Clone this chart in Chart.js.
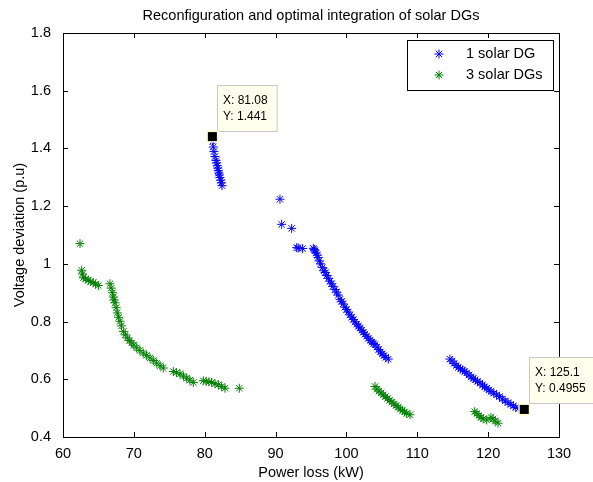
<!DOCTYPE html>
<html><head><meta charset="utf-8">
<script src="https://cdn.jsdelivr.net/npm/chart.js@4"></script>
<style>html,body{margin:0;padding:0;background:#fff}canvas{display:block}</style>
</head><body>
<canvas id="c" width="593" height="482"></canvas>
<script>
const titleText = 'Reconfiguration and optimal integration of solar DGs';
const xAxisTitle = 'Power loss (kW)';
const yAxisTitle = 'Voltage deviation (p.u)';
const seriesLabels = ['1 solar DG', '3 solar DGs'];
const xTicks = [60, 70, 80, 90, 100, 110, 120, 130];
const yTicks = [0.4, 0.6, 0.8, 1.0, 1.2, 1.4, 1.6, 1.8];
const yTickLabels = ['0.4', '0.6', '0.8', '1', '1.2', '1.4', '1.6', '1.8'];

// 1 solar DG
const oneDgX = [81.08, 81.12, 81.21, 81.30, 81.45, 81.59, 81.68, 81.78, 81.85, 81.92, 82.00, 82.06, 82.15, 82.26, 82.35, 82.44,
  90.62, 90.86, 92.27, 92.98, 93.20, 93.82, 95.33, 95.45, 95.56, 95.70, 95.89, 96.00, 96.17, 96.35, 96.60, 96.85, 97.00, 97.21, 97.45, 97.68, 97.90, 98.10, 98.39, 98.60, 98.85, 99.10, 99.30, 99.55, 99.80, 100.00, 100.25, 100.50, 100.75, 100.97, 101.20, 101.45, 101.70, 101.90, 102.15, 102.40, 102.60, 102.86, 103.10, 103.35, 103.60, 103.80, 104.03, 104.30, 104.55, 104.80, 105.05, 105.30, 105.55, 105.91,
  114.6, 114.9, 115.2, 115.5, 115.8, 116.1, 116.4, 116.7, 116.97, 117.3, 117.6, 117.9, 118.2, 118.5, 118.85, 119.2, 119.5, 119.8, 120.1, 120.4, 120.8, 121.2, 121.6, 122.0, 122.4, 122.8, 123.2, 123.55, 123.9, 124.3, 125.1];
const oneDgY = [1.441, 1.425, 1.405, 1.389, 1.372, 1.358, 1.350, 1.340, 1.332, 1.323, 1.315, 1.308, 1.299, 1.290, 1.281, 1.271,
  1.224, 1.137, 1.123, 1.056, 1.055, 1.053, 1.054, 1.050, 1.045, 1.038, 1.030, 1.022, 1.010, 1.000, 0.987, 0.976, 0.970, 0.960, 0.950, 0.940, 0.931, 0.922, 0.911, 0.902, 0.892, 0.877, 0.870, 0.861, 0.850, 0.842, 0.833, 0.823, 0.815, 0.807, 0.799, 0.791, 0.784, 0.778, 0.770, 0.763, 0.756, 0.749, 0.742, 0.735, 0.729, 0.724, 0.720, 0.712, 0.703, 0.695, 0.688, 0.682, 0.676, 0.670,
  0.670, 0.663, 0.655, 0.648, 0.641, 0.636, 0.632, 0.627, 0.622, 0.615, 0.608, 0.603, 0.598, 0.593, 0.587, 0.580, 0.574, 0.569, 0.563, 0.558, 0.552, 0.546, 0.540, 0.532, 0.525, 0.519, 0.513, 0.508, 0.502, 0.499, 0.4955];

// 3 solar DGs
const threeDgX = [62.4, 62.64, 62.75, 62.87, 63.2, 63.57, 63.9, 64.28, 64.6, 64.98,
  66.63, 66.80, 67.01, 67.10, 67.2, 67.34, 67.5, 67.67, 67.85, 68.04, 68.25, 68.51, 68.8, 69.08, 69.4, 69.69, 70.0, 70.4, 70.85, 71.33, 71.8, 72.28, 72.75, 73.22, 73.7, 74.16,
  75.57, 76.0, 76.51, 77.0, 77.46, 77.9, 78.39, 79.8, 80.2, 80.6, 80.98, 81.45, 81.92, 82.4, 82.86, 84.88,
  104.03, 104.3, 104.6, 104.9, 105.2, 105.5, 105.8, 106.1, 106.4, 106.7, 107.0, 107.3, 107.6, 107.9, 108.2, 108.5, 108.97,
  118.1, 118.4, 118.7, 119.0, 119.3, 119.8, 120.4, 120.7, 121.0, 121.4];
const threeDgY = [1.070, 0.978, 0.965, 0.952, 0.948, 0.943, 0.939, 0.935, 0.930, 0.925,
  0.931, 0.916, 0.900, 0.885, 0.875, 0.865, 0.848, 0.830, 0.815, 0.801, 0.785, 0.766, 0.754, 0.743, 0.734, 0.726, 0.718, 0.709, 0.700, 0.691, 0.683, 0.674, 0.665, 0.656, 0.647, 0.639,
  0.627, 0.623, 0.619, 0.611, 0.604, 0.597, 0.589, 0.595, 0.593, 0.591, 0.589, 0.585, 0.581, 0.575, 0.569, 0.569,
  0.575, 0.566, 0.559, 0.553, 0.546, 0.540, 0.533, 0.527, 0.521, 0.515, 0.509, 0.503, 0.497, 0.492, 0.487, 0.482, 0.477,
  0.488, 0.481, 0.474, 0.468, 0.463, 0.459, 0.468, 0.463, 0.455, 0.448];

// data tips
const tipX = [81.08, 125.1];
const tipY = [1.441, 0.4955];

const FONT = '"Liberation Sans", Arial, Helvetica, sans-serif';
const toPts = (xs, ys) => xs.map((x, i) => ({x: x, y: ys[i]}));

function drawStar(ctx, x, y, r, color) {
  ctx.strokeStyle = color;
  ctx.lineWidth = 1;
  ctx.beginPath();
  ctx.moveTo(x - r, y); ctx.lineTo(x + r, y);
  ctx.moveTo(x, y - r); ctx.lineTo(x, y + r);
  const d = r * Math.SQRT1_2;
  ctx.moveTo(x - d, y - d); ctx.lineTo(x + d, y + d);
  ctx.moveTo(x - d, y + d); ctx.lineTo(x + d, y - d);
  ctx.stroke();
}

const overlay = {
  id: 'overlay',
  afterDraw(chart) {
    const ctx = chart.ctx, a = chart.chartArea;
    const xs = chart.scales.x, ys = chart.scales.y;
    ctx.save();
    // title
    ctx.fillStyle = '#000';
    ctx.font = '14.5px ' + FONT;
    ctx.textAlign = 'center';
    ctx.textBaseline = 'middle';
    ctx.fillText(titleText, (a.left + a.right) / 2, 16);
    // frame
    ctx.strokeStyle = '#000';
    ctx.lineWidth = 1;
    ctx.strokeRect(Math.round(a.left) + 0.5, Math.round(a.top) + 0.5, Math.round(a.right - a.left), Math.round(a.bottom - a.top));
    // inward ticks
    const tl = 5;
    ctx.beginPath();
    xTicks.forEach(v => {
      const p = Math.round(xs.getPixelForValue(v)) + 0.5;
      ctx.moveTo(p, a.bottom); ctx.lineTo(p, a.bottom - tl);
      ctx.moveTo(p, a.top); ctx.lineTo(p, a.top + tl);
    });
    yTicks.forEach(v => {
      const p = Math.round(ys.getPixelForValue(v)) + 0.5;
      ctx.moveTo(a.left, p); ctx.lineTo(a.left + tl, p);
      ctx.moveTo(a.right, p); ctx.lineTo(a.right - tl, p);
    });
    ctx.stroke();
    // legend
    const lx = 407, ly = 40, lw = 146, lh = 50;
    ctx.fillStyle = '#fff';
    ctx.fillRect(lx, ly, lw, lh);
    ctx.strokeStyle = '#000';
    ctx.strokeRect(lx + 0.5, ly + 0.5, lw, lh);
    chart.data.datasets.forEach((ds, i) => {
      const cy = ly + 14 + i * 21;
      drawStar(ctx, lx + 32, cy, 4.5, ds.borderColor);
      ctx.fillStyle = '#000';
      ctx.textAlign = 'left';
      ctx.textBaseline = 'middle';
      ctx.font = '14.5px ' + FONT;
      ctx.fillText(ds.label, lx + 59, cy);
    });
    // data tips
    ctx.font = '12px ' + FONT;
    tipX.forEach((tx, i) => {
      const px = xs.getPixelForValue(tx), py = ys.getPixelForValue(tipY[i]);
      const lines = ['X: ' + tx, 'Y: ' + tipY[i]];
      const w = Math.max(...lines.map(l => ctx.measureText(l).width)) + 15;
      const h = 46;
      const bx = Math.round(px + 5), by = Math.round(py - 52);
      ctx.fillStyle = 'rgb(255,255,237)';
      ctx.fillRect(bx, by, w, h);
      ctx.strokeStyle = '#c8c8c8';
      ctx.strokeRect(bx + 0.5, by + 0.5, w, h);
      ctx.fillStyle = '#000';
      ctx.textAlign = 'left';
      ctx.textBaseline = 'middle';
      ctx.fillText(lines[0], bx + 6, by + 16);
      ctx.fillText(lines[1], bx + 6, by + 32);
      ctx.fillStyle = 'rgb(255,255,200)';
      ctx.fillRect(px - 6, py - 6, 12, 12);
      ctx.fillStyle = '#000';
      ctx.fillRect(px - 4.5, py - 4.5, 9, 9);
    });
    ctx.restore();
  }
};

new Chart(document.getElementById('c'), {
  type: 'scatter',
  data: {
    datasets: [
      {label: seriesLabels[0], data: toPts(oneDgX, oneDgY), borderColor: '#0000ff', backgroundColor: '#0000ff',
       pointStyle: 'star', pointRadius: 4.5, pointBorderWidth: 1, showLine: false},
      {label: seriesLabels[1], data: toPts(threeDgX, threeDgY), borderColor: '#008000', backgroundColor: '#008000',
       pointStyle: 'star', pointRadius: 4.5, pointBorderWidth: 1, showLine: false}
    ]
  },
  options: {
    responsive: false,
    animation: false,
    devicePixelRatio: 1,
    layout: {padding: {top: 33, right: 34, bottom: 0, left: 0}},
    plugins: {legend: {display: false}, title: {display: false}, tooltip: {enabled: false}},
    events: [],
    scales: {
      x: {
        type: 'linear', min: 60, max: 130,
        afterBuildTicks: s => { s.ticks = xTicks.map(v => ({value: v})); },
        afterFit: s => { s.height = 45; },
        grid: {display: false}, border: {display: false},
        ticks: {color: '#000', font: {family: FONT, size: 14.5}, padding: 0, maxRotation: 0,
                callback: v => String(v)},
        title: {display: true, text: xAxisTitle, color: '#000', font: {family: FONT, size: 14.5}, padding: {top: 0, bottom: 0}}
      },
      y: {
        type: 'linear', min: 0.4, max: 1.8,
        afterBuildTicks: s => { s.ticks = yTicks.map(v => ({value: v})); },
        afterFit: s => { s.width = 63; },
        grid: {display: false}, border: {display: false},
        ticks: {color: '#000', font: {family: FONT, size: 14.5}, padding: 4,
                callback: (v, i) => yTickLabels[i]},
        title: {display: true, text: yAxisTitle, color: '#000', font: {family: FONT, size: 14.5}, padding: {top: 11, bottom: 0}}
      }
    }
  },
  plugins: [overlay]
});
</script>
</body></html>
